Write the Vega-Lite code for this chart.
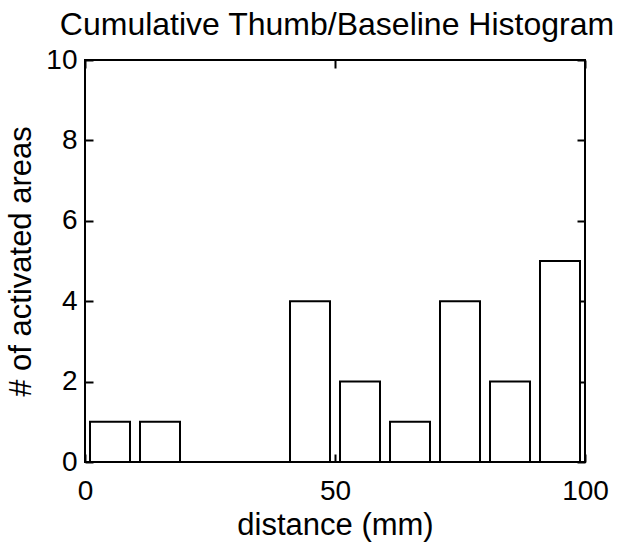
{
  "$schema": "https://vega.github.io/schema/vega-lite/v6.json",
  "width": 500,
  "height": 402,
  "autosize": "none",
  "padding": {"left": 85, "top": 60, "right": 34, "bottom": 86},
  "background": "white",
  "config": {
    "font": "Liberation Sans",
    "view": {"stroke": "black", "strokeWidth": 2},
    "axis": {
      "domain": false,
      "grid": false,
      "tickColor": "black",
      "tickWidth": 2,
      "tickSize": -8,
      "labelColor": "black",
      "labelFont": "Liberation Sans",
      "labelFontSize": 28,
      "titleFont": "Liberation Sans",
      "titleFontSize": 31,
      "titleFontWeight": "normal",
      "titleColor": "black"
    }
  },
  "title": {
    "text": "Cumulative Thumb/Baseline Histogram",
    "font": "Liberation Sans",
    "fontSize": 32,
    "fontWeight": "normal",
    "color": "black",
    "anchor": "middle",
    "offset": 4,
    "dx": 2
  },
  "data": {
    "values": [
      {"center": 5, "lo": 1, "hi": 9, "count": 1},
      {"center": 15, "lo": 11, "hi": 19, "count": 1},
      {"center": 25, "lo": 21, "hi": 29, "count": 0},
      {"center": 35, "lo": 31, "hi": 39, "count": 0},
      {"center": 45, "lo": 41, "hi": 49, "count": 4},
      {"center": 55, "lo": 51, "hi": 59, "count": 2},
      {"center": 65, "lo": 61, "hi": 69, "count": 1},
      {"center": 75, "lo": 71, "hi": 79, "count": 4},
      {"center": 85, "lo": 81, "hi": 89, "count": 2},
      {"center": 95, "lo": 91, "hi": 99, "count": 5}
    ]
  },
  "layer": [
    {
      "mark": {"type": "rect", "fill": "white", "stroke": "black", "strokeWidth": 2},
      "encoding": {
        "x": {
          "field": "lo",
          "type": "quantitative",
          "scale": {"domain": [0, 100], "nice": false, "zero": false},
          "axis": {"orient": "bottom", "values": [0, 50, 100], "title": "distance (mm)", "labelPadding": 23, "titlePadding": 5, "labelFlush": false}
        },
        "x2": {"field": "hi"},
        "y": {
          "field": "count",
          "type": "quantitative",
          "scale": {"domain": [0, 10], "nice": false},
          "axis": {"orient": "left", "values": [0, 2, 4, 6, 8, 10], "title": "# of activated areas", "labelPadding": 16, "titlePadding": 8, "labelFlush": false}
        },
        "y2": {"datum": 0}
      }
    },
    {
      "mark": {"type": "point", "opacity": 0},
      "encoding": {
        "x": {
          "field": "center",
          "type": "quantitative",
          "axis": {"orient": "top", "values": [0, 50, 100], "labels": false, "title": null}
        },
        "y": {
          "field": "count",
          "type": "quantitative",
          "axis": {"orient": "right", "values": [0, 2, 4, 6, 8, 10], "labels": false, "title": null}
        }
      }
    }
  ]
}
